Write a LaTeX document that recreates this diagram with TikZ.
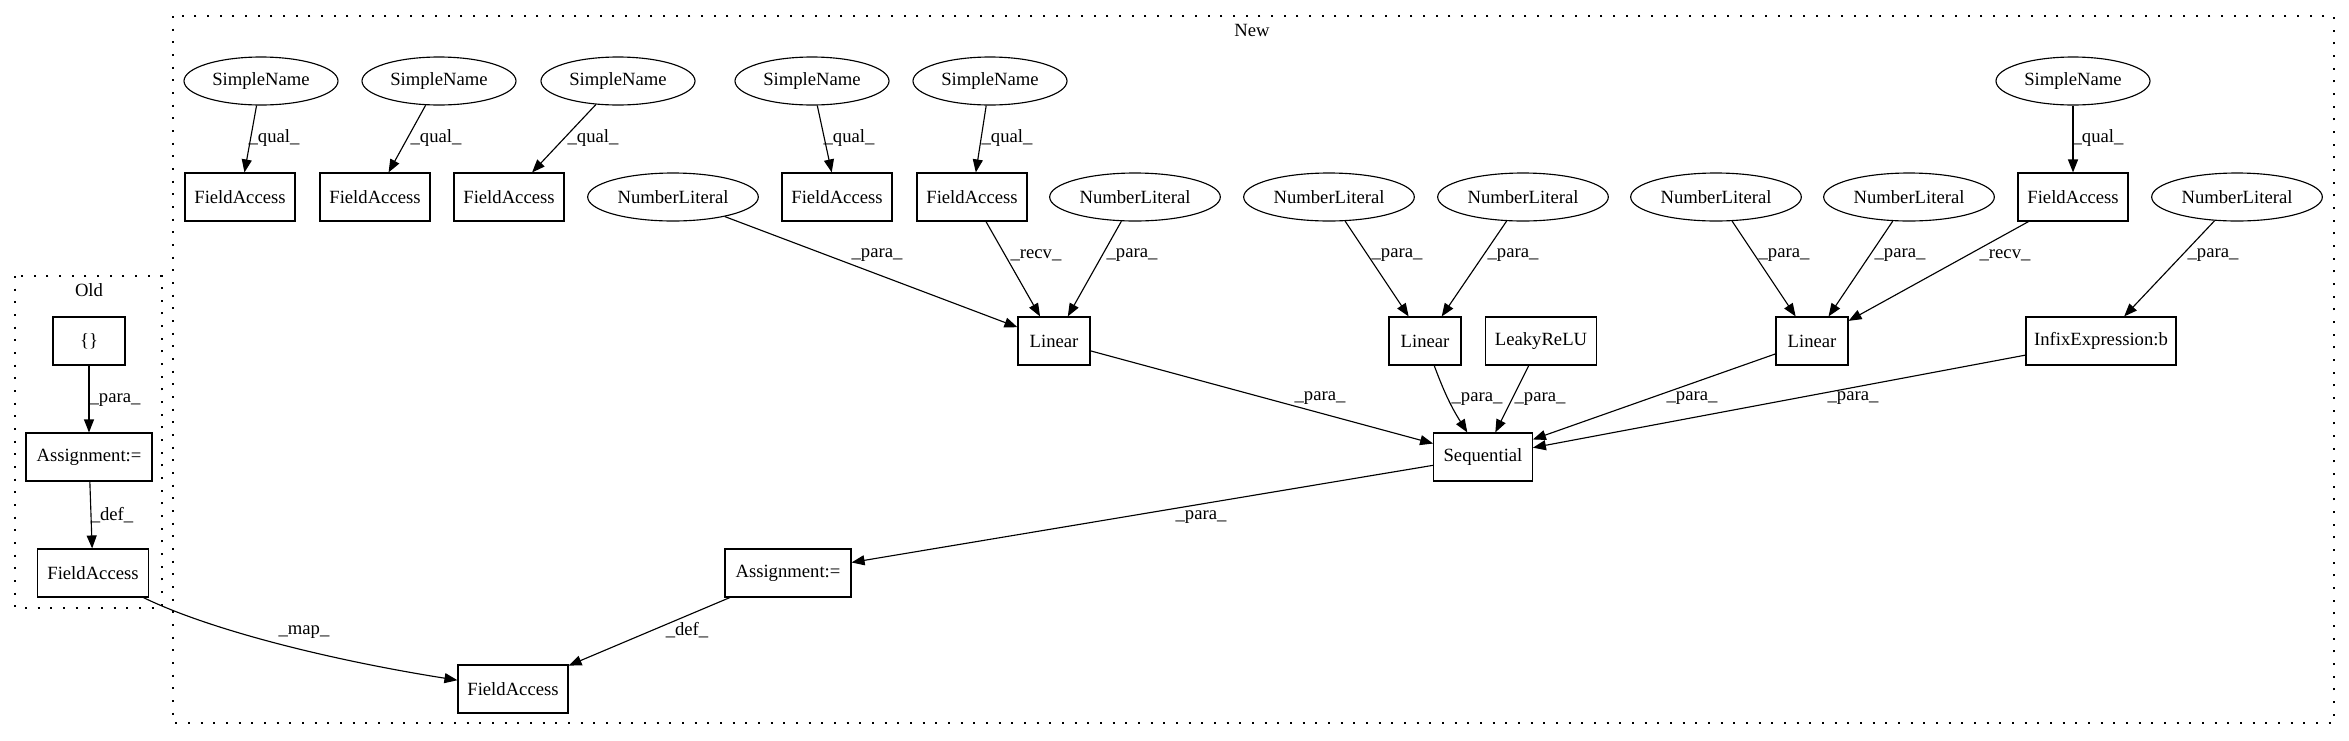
\documentclass[tikz,border=0pt]{standalone}
\usepackage{fontspec}
\setmainfont{Liberation Serif}
\usetikzlibrary{shapes.geometric,arrows.meta}
\begin{document}
\begin{tikzpicture}[x=0.75pt,y=-0.75pt,
  every node/.style={font=\fontsize{14pt}{16pt}\selectfont},
  box/.style={draw, line width=0.85pt, rectangle, inner sep=0pt, minimum height=36pt},
  oval/.style={draw, line width=0.85pt, ellipse, inner sep=0pt, minimum height=36pt},
  sname/.style={oval, minimum width=115.5pt},
  nlit/.style={oval, minimum width=128pt},
  fabox/.style={box, minimum width=82.5pt},
  conn/.style={line width=0.85pt, -{Triangle[length=9.75pt,width=7.5pt]}},
  lbl/.style={inner sep=0pt},
  cluster/.style={line width=1pt, dash pattern=on 1.5pt off 8pt}]
\useasboundingbox (0,0) rectangle (2349,740);
\fill[white] (0,0) rectangle (2349,740);
% clusters
\draw[cluster] (173,16) rectangle (2334,723);
\draw[cluster] (15,276) rectangle (162,608);
\node[lbl] (tnew) at (1252,30) {New};
\node[lbl] (told) at (89,290) {Old};
% top row
\node[sname] (sn1) at (261,81) {SimpleName};
\node[sname] (sn2) at (439,81) {SimpleName};
\node[sname] (sn3) at (618,81) {SimpleName};
\node[sname] (sn4) at (812,81) {SimpleName};
\node[sname] (sn5) at (990,81) {SimpleName};
\node[sname] (sn6) at (2073,81) {SimpleName};
% second row
\node[fabox] (fa1) at (240,197) {FieldAccess};
\node[fabox] (fa2) at (375,197) {FieldAccess};
\node[fabox] (fa3) at (509,197) {FieldAccess};
\node[fabox] (fa4) at (837,197) {FieldAccess};
\node[fabox] (fa5) at (972,197) {FieldAccess};
\node[fabox] (fa6) at (2073,197) {FieldAccess};
\node[nlit] (nl1) at (673,197) {NumberLiteral};
\node[nlit] (nl2) at (1135,197) {NumberLiteral};
\node[nlit] (nl3) at (1329,197) {NumberLiteral};
\node[nlit] (nl4) at (1523,197) {NumberLiteral};
\node[nlit] (nl5) at (1716,197) {NumberLiteral};
\node[nlit] (nl6) at (1909,197) {NumberLiteral};
\node[nlit] (nl7) at (2237,197) {NumberLiteral};
% third row
\node[box, minimum width=54pt] (lin1) at (1054,341) {Linear};
\node[box, minimum width=54pt] (lin2) at (1425,341) {Linear};
\node[box, minimum width=83pt] (leaky) at (1541,341) {LeakyReLU};
\node[box, minimum width=54pt] (lin3) at (1812,341) {Linear};
\node[box, minimum width=112.5pt] (infix) at (2101,341) {InfixExpression:b};
% lower
\node[box, minimum width=74pt] (seq) at (1483,457) {Sequential};
\node[box, minimum width=94.5pt] (asgn) at (788,573) {Assignment:=};
\node[fabox] (fab) at (513,689) {FieldAccess};
% old
\node[box, minimum width=54pt] (brace) at (89,341) {\{\}};
\node[box, minimum width=94.5pt] (asgo) at (89,457) {Assignment:=};
\node[box, minimum width=83pt] (fao) at (93,573) {FieldAccess};
% edges
\draw[conn] (sn1) -- (fa1);
\draw[conn] (sn2) -- (fa2);
\draw[conn] (sn3) -- (fa3);
\draw[conn] (sn4) -- (fa4);
\draw[conn] (sn5) -- (fa5);
\draw[conn] (sn6) -- (fa6);
\draw[conn] (nl1) -- (lin1);
\draw[conn] (fa5) -- (lin1);
\draw[conn] (nl2) -- (lin1);
\draw[conn] (nl3) -- (lin2);
\draw[conn] (nl4) -- (lin2);
\draw[conn] (nl5) -- (lin3);
\draw[conn] (nl6) -- (lin3);
\draw[conn] (fa6) -- (lin3);
\draw[conn] (nl7) -- (infix);
\draw[conn] (lin1) -- (seq);
\draw[conn] (lin2) to[bend right=6] (seq);
\draw[conn] (leaky) -- (seq);
\draw[conn] (lin3) -- (seq);
\draw[conn] (infix) -- (seq);
\draw[conn] (seq) -- (asgn);
\draw[conn] (asgn) -- (fab);
\draw[conn] (fao) .. controls (210,630) and (330,660) .. (fab);
\draw[conn] (brace) -- (asgo);
\draw[conn] (asgo) -- (fao);
% edge labels
\node[lbl] (q1) at (274,138) {\_qual\_};
\node[lbl] (q2) at (436,138) {\_qual\_};
\node[lbl] (q3) at (593,138) {\_qual\_};
\node[lbl] (q4) at (849,138) {\_qual\_};
\node[lbl] (q5) at (1007,138) {\_qual\_};
\node[lbl] (q6) at (2098,138) {\_qual\_};
\node[lbl] (p1) at (877,255) {\_para\_};
\node[lbl] (r1) at (1036,255) {\_recv\_};
\node[lbl] (p2) at (1132,255) {\_para\_};
\node[lbl] (p3) at (1397,255) {\_para\_};
\node[lbl] (p4) at (1513,255) {\_para\_};
\node[lbl] (p5) at (1784,255) {\_para\_};
\node[lbl] (p6) at (1900,255) {\_para\_};
\node[lbl] (r2) at (2005,255) {\_recv\_};
\node[lbl] (p7) at (2213,255) {\_para\_};
\node[lbl] (p8) at (1320,398) {\_para\_};
\node[lbl] (p9) at (1477,399) {\_para\_};
\node[lbl] (p10) at (1540,399) {\_para\_};
\node[lbl] (p11) at (1692,398) {\_para\_};
\node[lbl] (p12) at (1853,398) {\_para\_};
\node[lbl] (p13) at (1201,517) {\_para\_};
\node[lbl] (d1) at (687,630) {\_def\_};
\node[lbl] (m1) at (304,632) {\_map\_};
\node[lbl] (p14) at (115,400) {\_para\_};
\node[lbl] (d2) at (112,515) {\_def\_};
\end{tikzpicture}
\end{document}
